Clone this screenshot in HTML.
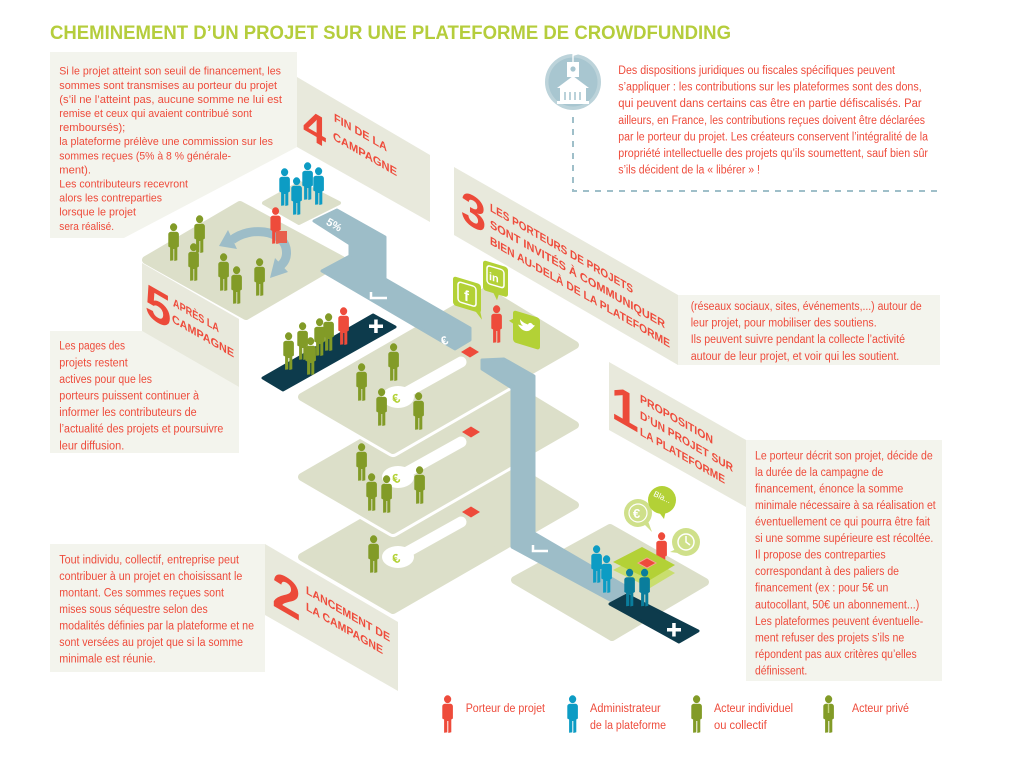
<!DOCTYPE html>
<html><head><meta charset="utf-8"><style>
html,body{margin:0;padding:0;background:#fff;}
svg{display:block;}
text{font-family:"Liberation Sans",sans-serif;}
.t{fill:#ee4b3b;font-size:11.5px;}
.t4{fill:#ee4b3b;font-size:11px;}
.lb{fill:#ee4b3b;font-size:11.5px;font-weight:bold;}
.num{fill:#ec4a39;font-weight:bold;}
</style></head><body>
<svg width="1016" height="763" viewBox="0 0 1016 763" xmlns="http://www.w3.org/2000/svg" xmlns:xlink="http://www.w3.org/1999/xlink">
<defs>
<symbol id="p" viewBox="0 0 12 38">
 <ellipse cx="6.6" cy="4.2" rx="3.6" ry="3.9"/>
 <path d="M1.3,11.5 C1.3,9.5 2.8,8.8 4.6,8.8 L8.9,8.8 C10.7,8.8 11.9,9.8 11.9,11.5 L11.9,23.5 L10.3,24.5 L10.3,37.2 L7.3,38 L7.3,26 L6.3,26 L6.3,37.4 L3.1,37.8 L3.1,24.5 L1.3,23.5 Z"/>
</symbol>
</defs>

<!-- Text panels and banners -->
<polygon points="50,52 297,52 297,147 124,238 50,238" fill="#f3f4ed"/>
<polygon points="297,77 430,155 430,222 297,147" fill="#e8e9dc"/>
<polygon points="50,331 142,331 239,387 239,453 50,453" fill="#f3f4ed"/>
<polygon points="142,263 239,319 239,387 142,331" fill="#e8e9dc"/>
<rect x="50" y="544" width="215" height="128" fill="#f3f4ed"/>
<polygon points="265,544 398,622 398,691 265,615" fill="#e8e9dc"/>
<rect x="678" y="295" width="262" height="70" fill="#f3f4ed"/>
<polygon points="454,167 678,295 678,365 454,235" fill="#e8e9dc"/>
<rect x="746" y="440" width="196" height="241" fill="#f3f4ed"/>
<polygon points="609,362 746,440 746,507 609,430" fill="#e8e9dc"/>

<!-- Title -->
<text x="50" y="39" font-size="19.5" font-weight="bold" fill="#b5cd3c" textLength="681" lengthAdjust="spacingAndGlyphs">CHEMINEMENT D’UN PROJET SUR UNE PLATEFORME DE CROWDFUNDING</text>

<!-- Info icon -->
<circle cx="573" cy="82" r="28" fill="#bcd3da"/>
<circle cx="573" cy="82" r="24.5" fill="#a8c6d0"/>
<line x1="573" y1="51" x2="573" y2="63" stroke="#fff" stroke-width="1.3"/>
<polygon points="573,51 581,53.5 573,56" fill="#fff"/>
<rect x="567" y="62" width="12" height="15" fill="#fff"/>
<circle cx="573" cy="69" r="2.6" fill="#a8c6d0"/>
<polygon points="557,88 573,76 589,88" fill="#fff"/>
<rect x="560" y="87" width="26" height="15" fill="#fff"/>
<g stroke="#a8c6d0" stroke-width="1.6">
<line x1="565" y1="92" x2="565" y2="100"/><line x1="570" y1="92" x2="570" y2="100"/><line x1="575" y1="92" x2="575" y2="100"/><line x1="580" y1="92" x2="580" y2="100"/>
</g>
<rect x="557" y="101" width="32" height="3" fill="#fff"/>
<path d="M573,117 V191 H942" fill="none" stroke="#9fbfc9" stroke-width="2" stroke-dasharray="6 6"/>

<!-- Plates -->
<path d="M146,260 L240,205 L342,260 L246,316 Z" fill="#dcdfc9" stroke="#dcdfc9" stroke-width="8" stroke-linejoin="round"/>
<path d="M264,203 L300,183 L339,203 L299,223 Z" fill="#dcdfc9" stroke="#dcdfc9" stroke-width="4" stroke-linejoin="round"/>

<path d="M302,557 L486,451 L575,505 L393,610 Z" fill="#fff" stroke="#fff" stroke-width="14" stroke-linejoin="round"/>
<path d="M302,557 L486,451 L575,505 L393,610 Z" fill="#dcdfc9" stroke="#dcdfc9" stroke-width="8" stroke-linejoin="round"/>
<path d="M302,477 L486,371 L575,425 L393,530 Z" fill="#fff" stroke="#fff" stroke-width="14" stroke-linejoin="round"/>
<path d="M302,477 L486,371 L575,425 L393,530 Z" fill="#dcdfc9" stroke="#dcdfc9" stroke-width="8" stroke-linejoin="round"/>
<path d="M302,397 L486,291 L575,345 L393,450 Z" fill="#fff" stroke="#fff" stroke-width="14" stroke-linejoin="round"/>
<path d="M302,397 L486,291 L575,345 L393,450 Z" fill="#dcdfc9" stroke="#dcdfc9" stroke-width="8" stroke-linejoin="round"/>

<path d="M515,580 L610,528 L705,582 L612,637 Z" fill="#dcdfc9" stroke="#dcdfc9" stroke-width="8" stroke-linejoin="round"/>

<!-- White slots, euros and diamonds -->
<g stroke="#fff" stroke-width="11" stroke-linecap="round">
<line x1="400" y1="396" x2="461" y2="362"/>
<line x1="400" y1="476" x2="461" y2="442"/>
<line x1="400" y1="556" x2="461" y2="522"/>
</g>
<g fill="#fff">
<ellipse cx="398" cy="397" rx="16" ry="11"/>
<ellipse cx="398" cy="477" rx="16" ry="11"/>
<ellipse cx="398" cy="557" rx="16" ry="11"/>
</g>
<g fill="#b3d136" font-size="13" font-weight="bold">
<text x="392" y="402" transform="rotate(-25 398 397)">€</text>
<text x="392" y="482" transform="rotate(-25 398 477)">€</text>
<text x="392" y="562" transform="rotate(-25 398 557)">€</text>
</g>
<g fill="#ee4b3b">
<polygon points="461,352 470,346.5 479,352 470,357.5"/>
<polygon points="462,432 471,426.5 480,432 471,437.5"/>
<polygon points="462,512 471,506.5 480,512 471,517.5"/>
</g>

<!-- Blue paths -->
<path d="M314,221 L337,210 L385,237 L385,279 L470,328 L470,340 L455,349 L322,271 L350,256 L350,244 Z" fill="#9dbdc8" stroke="#9dbdc8" stroke-width="3" stroke-linejoin="round"/>
<path d="M482,360 L504,359 L534,376 L534,533 L630,589 L612,601 L512,547 L512,388 L482,369 Z" fill="#9dbdc8" stroke="#9dbdc8" stroke-width="3" stroke-linejoin="round"/>
<text x="327" y="226" fill="#fff" font-size="11" font-weight="bold" transform="rotate(30 330 222)">5%</text>
<text x="441" y="344" fill="#fff" font-size="12" font-weight="bold" transform="rotate(-25 446 340)">€</text>
<polyline points="371,292 371,298 387,298" fill="none" stroke="#fff" stroke-width="2.5"/>
<polyline points="533,545 533,551 548,551" fill="none" stroke="#fff" stroke-width="2.5"/>

<!-- curved arrow on P5 -->
<path d="M232,240 C250,226 282,230 286,248 C288,258 284,263 279,267" fill="none" stroke="#9dbdc8" stroke-width="9"/>
<polygon points="219,246 237,249 228,230" fill="#9dbdc8"/>
<polygon points="270,278 288,272 275,258" fill="#9dbdc8"/>

<!-- Navy bands -->
<path d="M263,378 L373,315 L395,327 L283,390 Z" fill="#0d3b4c" stroke="#0d3b4c" stroke-width="3" stroke-linejoin="round"/>
<rect x="369" y="324.5" width="14" height="3.5" fill="#fff"/>
<rect x="374.2" y="319.5" width="3.5" height="13.5" fill="#fff"/>
<path d="M610,604 L627,595 L698,631 L679,642 Z" fill="#0d3b4c" stroke="#0d3b4c" stroke-width="3" stroke-linejoin="round"/>
<rect x="667" y="628" width="14" height="3.5" fill="#fff"/>
<rect x="672.2" y="623" width="3.5" height="13.5" fill="#fff"/>

<!-- P1 table & bubbles -->
<use href="#p" xlink:href="#p" x="655" y="532" width="12" height="38" fill="#ee4b3b"/>
<polygon points="613,570 642,555 675,573 650,588" fill="#c9de6e"/>
<polygon points="613,562 642,547 675,565 650,580" fill="#b3d136"/>
<polygon points="638,563 647,558 656,563 647,568" fill="#ee4b3b" stroke="#f6a396" stroke-width="1"/>
<circle cx="638" cy="513" r="14" fill="#cfe08a"/>
<polygon points="644,524 652,532 648,521" fill="#cfe08a"/>
<circle cx="638" cy="513" r="9" fill="none" stroke="#fff" stroke-width="1.2"/>
<text x="633" y="518" fill="#fff" font-size="13" font-weight="bold">€</text>
<circle cx="662" cy="500" r="14" fill="#b3d136"/>
<polygon points="658,511 664,519 666,510" fill="#b3d136"/>
<text x="652" y="500" fill="#fff" font-size="8" transform="rotate(25 662 500)">Bla...</text>
<circle cx="686" cy="542" r="14" fill="#cfe08a"/>
<polygon points="676,549 670,552 678,553" fill="#cfe08a"/>
<circle cx="686" cy="542" r="8" fill="none" stroke="#fff" stroke-width="1.5"/>
<polyline points="686,536 686,542 690,545" fill="none" stroke="#fff" stroke-width="1.5"/>

<!-- Figures: P4 blue -->
<g fill="#0d9cc4">
<use href="#p" xlink:href="#p" x="301" y="162" width="12" height="38"/>
<use href="#p" xlink:href="#p" x="312" y="167" width="12" height="38"/>
<use href="#p" xlink:href="#p" x="278" y="168" width="12" height="38"/>
<use href="#p" xlink:href="#p" x="290" y="177" width="12" height="38"/>
</g>
<!-- P5 -->
<g fill="#829b27">
<use href="#p" xlink:href="#p" x="193" y="215" width="12" height="38"/>
<use href="#p" xlink:href="#p" x="167" y="223" width="12" height="38"/>
<use href="#p" xlink:href="#p" x="187" y="243" width="12" height="38"/>
<use href="#p" xlink:href="#p" x="217" y="253" width="12" height="38"/>
<use href="#p" xlink:href="#p" x="253" y="258" width="12" height="38"/>
<use href="#p" xlink:href="#p" x="230" y="266" width="12" height="38"/>
</g>
<use href="#p" xlink:href="#p" x="269" y="207" width="12" height="37" fill="#ee4b3b"/>
<rect x="276" y="231" width="11" height="12" fill="#e8604d"/>
<!-- navy band figures -->
<g fill="#829b27">
<use href="#p" xlink:href="#p" x="322" y="313" width="12" height="38"/>
<use href="#p" xlink:href="#p" x="313" y="318" width="12" height="38"/>
<use href="#p" xlink:href="#p" x="296" y="322" width="12" height="38"/>
<use href="#p" xlink:href="#p" x="282" y="332" width="12" height="38"/>
<use href="#p" xlink:href="#p" x="304" y="337" width="12" height="38"/>
</g>
<use href="#p" xlink:href="#p" x="337" y="307" width="12" height="38" fill="#ee4b3b"/>
<!-- M plates -->
<g fill="#829b27">
<use href="#p" xlink:href="#p" x="387" y="343" width="12" height="38"/>
<use href="#p" xlink:href="#p" x="355" y="363" width="12" height="38"/>
<use href="#p" xlink:href="#p" x="375" y="388" width="12" height="38"/>
<use href="#p" xlink:href="#p" x="412" y="392" width="12" height="38"/>
<use href="#p" xlink:href="#p" x="355" y="443" width="12" height="38"/>
<use href="#p" xlink:href="#p" x="413" y="466" width="12" height="38"/>
<use href="#p" xlink:href="#p" x="365" y="473" width="12" height="38"/>
<use href="#p" xlink:href="#p" x="380" y="475" width="12" height="38"/>
<use href="#p" xlink:href="#p" x="367" y="535" width="12" height="38"/>
</g>
<!-- P1 figures -->
<g fill="#0d9cc4">
<use href="#p" xlink:href="#p" x="590" y="545" width="12" height="38"/>
<use href="#p" xlink:href="#p" x="600" y="555" width="12" height="38"/>
</g>
<g fill="#0a7d9c">
<use href="#p" xlink:href="#p" x="623" y="568" width="12" height="39"/>
<use href="#p" xlink:href="#p" x="638" y="568" width="12" height="39"/>
</g>

<!-- Social icons -->
<g transform="matrix(1,0.3,0,1,453,276)">
<rect x="0" y="0" width="28" height="29" rx="3" fill="#b3d136"/>
<polygon points="22,28 29,35 27,26" fill="#b3d136"/>
<rect x="5" y="4" width="18" height="20" rx="3" fill="none" stroke="#fff" stroke-width="1.5"/>
<text x="11" y="21" fill="#fff" font-size="15" font-weight="bold">f</text>
</g>
<g transform="matrix(1,0.3,0,1,483,260)">
<rect x="0" y="0" width="25" height="30" rx="3" fill="#b3d136"/>
<polygon points="10,29 14,36 16,29" fill="#b3d136"/>
<rect x="4" y="4" width="17" height="18" rx="3" fill="none" stroke="#fff" stroke-width="1.5"/>
<text x="6" y="18" fill="#fff" font-size="11" font-weight="bold">in</text>
</g>
<use href="#p" xlink:href="#p" x="490" y="305" width="12" height="38" fill="#ee4b3b"/>
<g transform="matrix(1,0.3,0,1,513,310)">
<rect x="0" y="0" width="27" height="32" rx="3" fill="#b3d136"/>
<polygon points="1,8 -4,12 1,14" fill="#b3d136"/>
<path d="M5,13 C8,18 14,19 18,14 C20,12 21,10 22,9 L20,9 C19,7 16,7 15,10 C12,10 9,9 7,7 C7,10 8,12 10,13 C8,13 7,13 5,13 Z" fill="#fff"/>
</g>

<!-- Big numbers -->
<text class="num" font-size="41.5" transform="translate(303,135) skewY(30)">4</text>
<text class="num" font-size="45" transform="translate(461,220) skewY(30)">3</text>
<text class="num" font-size="47" transform="translate(145,315) skewY(30)">5</text>
<text class="num" font-size="50" transform="translate(611,417) skewY(30)">1</text>
<text class="num" font-size="52" transform="translate(272,605) skewY(30)">2</text>

<!-- Banner labels -->
<text class="lb" transform="translate(334,121) skewY(30)" textLength="53" lengthAdjust="spacingAndGlyphs">FIN DE LA</text>
<text class="lb" transform="translate(333,139.5) skewY(30)" textLength="64" lengthAdjust="spacingAndGlyphs">CAMPAGNE</text>
<text class="lb" transform="translate(173,306) skewY(30)" textLength="46" lengthAdjust="spacingAndGlyphs">APRÈS LA</text>
<text class="lb" transform="translate(172,322) skewY(30)" textLength="62" lengthAdjust="spacingAndGlyphs">CAMPAGNE</text>
<text class="lb" transform="translate(490,211) skewY(30)" textLength="143" lengthAdjust="spacingAndGlyphs">LES PORTEURS DE PROJETS</text>
<text class="lb" transform="translate(490,227.5) skewY(30)" textLength="175" lengthAdjust="spacingAndGlyphs">SONT INVITÉS À COMMUNIQUER</text>
<text class="lb" transform="translate(490,244) skewY(30)" textLength="180" lengthAdjust="spacingAndGlyphs">BIEN AU-DELÀ DE LA PLATEFORME</text>
<text class="lb" transform="translate(640,402) skewY(30)" textLength="73" lengthAdjust="spacingAndGlyphs">PROPOSITION</text>
<text class="lb" transform="translate(640,418.5) skewY(30)" textLength="93" lengthAdjust="spacingAndGlyphs">D’UN PROJET SUR</text>
<text class="lb" transform="translate(640,435) skewY(30)" textLength="85" lengthAdjust="spacingAndGlyphs">LA PLATEFORME</text>
<text class="lb" transform="translate(306,593.5) skewY(30)" textLength="84" lengthAdjust="spacingAndGlyphs">LANCEMENT DE</text>
<text class="lb" transform="translate(306,610) skewY(30)" textLength="77" lengthAdjust="spacingAndGlyphs">LA CAMPAGNE</text>

<!-- Box 4 text -->
<g class="t4">
<text x="59.3" y="74.7" textLength="221.7" lengthAdjust="spacingAndGlyphs">Si le projet atteint son seuil de financement, les</text>
<text x="59.3" y="88.8" textLength="217.7" lengthAdjust="spacingAndGlyphs">sommes sont transmises au porteur du projet</text>
<text x="59.3" y="102.9" textLength="222.7" lengthAdjust="spacingAndGlyphs">(s’il ne l’atteint pas, aucune somme ne lui est</text>
<text x="59.3" y="117" textLength="192.7" lengthAdjust="spacingAndGlyphs">remise et ceux qui avaient contribué sont</text>
<text x="59.3" y="131.1" textLength="66" lengthAdjust="spacingAndGlyphs">remboursés);</text>
<text x="59.3" y="145.2" textLength="213.7" lengthAdjust="spacingAndGlyphs">la plateforme prélève une commission sur les</text>
<text x="59.3" y="159.3" textLength="171.7" lengthAdjust="spacingAndGlyphs">sommes reçues (5% à 8 % générale-</text>
<text x="59.3" y="173.4" textLength="31.7" lengthAdjust="spacingAndGlyphs">ment).</text>
<text x="59.3" y="187.5" textLength="128.7" lengthAdjust="spacingAndGlyphs">Les contributeurs recevront</text>
<text x="59.3" y="201.6" textLength="102.7" lengthAdjust="spacingAndGlyphs">alors les contreparties</text>
<text x="59.3" y="215.7" textLength="76.7" lengthAdjust="spacingAndGlyphs">lorsque le projet</text>
<text x="59.3" y="229.8" textLength="54.7" lengthAdjust="spacingAndGlyphs">sera réalisé.</text>
</g>

<!-- Info text -->
<g class="t">
<text x="618.3" y="74" textLength="276.7" lengthAdjust="spacingAndGlyphs">Des dispositions juridiques ou fiscales spécifiques peuvent</text>
<text x="618.3" y="90.6" textLength="303.4" lengthAdjust="spacingAndGlyphs">s’appliquer : les contributions sur les plateformes sont des dons,</text>
<text x="618.3" y="107.2" textLength="303.4" lengthAdjust="spacingAndGlyphs">qui peuvent dans certains cas être en partie défiscalisés. Par</text>
<text x="618.3" y="123.8" textLength="306.7" lengthAdjust="spacingAndGlyphs">ailleurs, en France, les contributions reçues doivent être déclarées</text>
<text x="618.3" y="140.4" textLength="309.7" lengthAdjust="spacingAndGlyphs">par le porteur du projet. Les créateurs conservent l’intégralité de la</text>
<text x="618.3" y="157" textLength="309.7" lengthAdjust="spacingAndGlyphs">propriété intellectuelle des projets qu’ils soumettent, sauf bien sûr</text>
<text x="618.3" y="173.6" textLength="141.7" lengthAdjust="spacingAndGlyphs">s’ils décident de la « libérer » !</text>
</g>

<!-- Box 5 text -->
<g class="t">
<text x="59.3" y="349.7" textLength="65.7" lengthAdjust="spacingAndGlyphs">Les pages des</text>
<text x="59.3" y="366.3" textLength="68.4" lengthAdjust="spacingAndGlyphs">projets restent</text>
<text x="59.3" y="382.9" textLength="92.7" lengthAdjust="spacingAndGlyphs">actives pour que les</text>
<text x="59.3" y="399.5" textLength="139.7" lengthAdjust="spacingAndGlyphs">porteurs puissent continuer à</text>
<text x="59.3" y="416.1" textLength="137.4" lengthAdjust="spacingAndGlyphs">informer les contributeurs de</text>
<text x="59.3" y="432.7" textLength="164" lengthAdjust="spacingAndGlyphs">l’actualité des projets et poursuivre</text>
<text x="59.3" y="449.3" textLength="65" lengthAdjust="spacingAndGlyphs">leur diffusion.</text>
</g>

<!-- Box 2 text -->
<g class="t">
<text x="59.3" y="563.3" textLength="179.7" lengthAdjust="spacingAndGlyphs">Tout individu, collectif, entreprise peut</text>
<text x="59.3" y="579.8" textLength="183" lengthAdjust="spacingAndGlyphs">contribuer à un projet en choisissant le</text>
<text x="59.3" y="596.3" textLength="164.7" lengthAdjust="spacingAndGlyphs">montant. Ces sommes reçues sont</text>
<text x="59.3" y="612.8" textLength="148.4" lengthAdjust="spacingAndGlyphs">mises sous séquestre selon des</text>
<text x="59.3" y="629.3" textLength="194.7" lengthAdjust="spacingAndGlyphs">modalités définies par la plateforme et ne</text>
<text x="59.3" y="645.8" textLength="183.7" lengthAdjust="spacingAndGlyphs">sont versées au projet que si la somme</text>
<text x="59.3" y="662.3" textLength="96.4" lengthAdjust="spacingAndGlyphs">minimale est réunie.</text>
</g>

<!-- Box 3 text -->
<g class="t">
<text x="690.7" y="310" textLength="231" lengthAdjust="spacingAndGlyphs">(réseaux sociaux, sites, événements,...) autour de</text>
<text x="690.7" y="326.6" textLength="186" lengthAdjust="spacingAndGlyphs">leur projet, pour mobiliser des soutiens.</text>
<text x="690.7" y="343.2" textLength="214.3" lengthAdjust="spacingAndGlyphs">Ils peuvent suivre pendant la collecte l’activité</text>
<text x="690.7" y="359.8" textLength="208.6" lengthAdjust="spacingAndGlyphs">autour de leur projet, et voir qui les soutient.</text>
</g>

<!-- Box 1 text -->
<g class="t">
<text x="755" y="459.3" textLength="177.7" lengthAdjust="spacingAndGlyphs">Le porteur décrit son projet, décide de</text>
<text x="755" y="475.9" textLength="128.3" lengthAdjust="spacingAndGlyphs">la durée de la campagne de</text>
<text x="755" y="492.4" textLength="148.3" lengthAdjust="spacingAndGlyphs">financement, énonce la somme</text>
<text x="755" y="509" textLength="180.7" lengthAdjust="spacingAndGlyphs">minimale nécessaire à sa réalisation et</text>
<text x="755" y="525.5" textLength="175" lengthAdjust="spacingAndGlyphs">éventuellement ce qui pourra être fait</text>
<text x="755" y="542.1" textLength="178.3" lengthAdjust="spacingAndGlyphs">si une somme supérieure est récoltée.</text>
<text x="755" y="558.6" textLength="130.7" lengthAdjust="spacingAndGlyphs">Il propose des contreparties</text>
<text x="755" y="575.2" textLength="144" lengthAdjust="spacingAndGlyphs">correspondant à des paliers de</text>
<text x="755" y="591.7" textLength="133.3" lengthAdjust="spacingAndGlyphs">financement (ex : pour 5€ un</text>
<text x="755" y="608.3" textLength="164.3" lengthAdjust="spacingAndGlyphs">autocollant, 50€ un abonnement...)</text>
<text x="755" y="624.8" textLength="168.3" lengthAdjust="spacingAndGlyphs">Les plateformes peuvent éventuelle-</text>
<text x="755" y="641.4" textLength="149.3" lengthAdjust="spacingAndGlyphs">ment refuser des projets s’ils ne</text>
<text x="755" y="657.9" textLength="161.7" lengthAdjust="spacingAndGlyphs">répondent pas aux critères qu’elles</text>
<text x="755" y="674.5" textLength="52.3" lengthAdjust="spacingAndGlyphs">définissent.</text>
</g>

<!-- Legend -->
<use href="#p" xlink:href="#p" x="441" y="695" width="12" height="38" fill="#ee4b3b"/>
<use href="#p" xlink:href="#p" x="566" y="695" width="12" height="38" fill="#0d9cc4"/>
<use href="#p" xlink:href="#p" x="690" y="695" width="12" height="38" fill="#829b27"/>
<use href="#p" xlink:href="#p" x="822" y="695" width="12" height="38" fill="#829b27"/>
<line x1="828.5" y1="704" x2="828.5" y2="713" stroke="#c3d47a" stroke-width="1.4"/>
<g class="t">
<text x="465.7" y="712" textLength="79.3" lengthAdjust="spacingAndGlyphs">Porteur de projet</text>
<text x="590" y="712" textLength="70.7" lengthAdjust="spacingAndGlyphs">Administrateur</text>
<text x="590" y="729" textLength="76" lengthAdjust="spacingAndGlyphs">de la plateforme</text>
<text x="714" y="712" textLength="79" lengthAdjust="spacingAndGlyphs">Acteur individuel</text>
<text x="714" y="729" textLength="52.7" lengthAdjust="spacingAndGlyphs">ou collectif</text>
<text x="852" y="712" textLength="57" lengthAdjust="spacingAndGlyphs">Acteur privé</text>
</g>
</svg>
</body></html>
